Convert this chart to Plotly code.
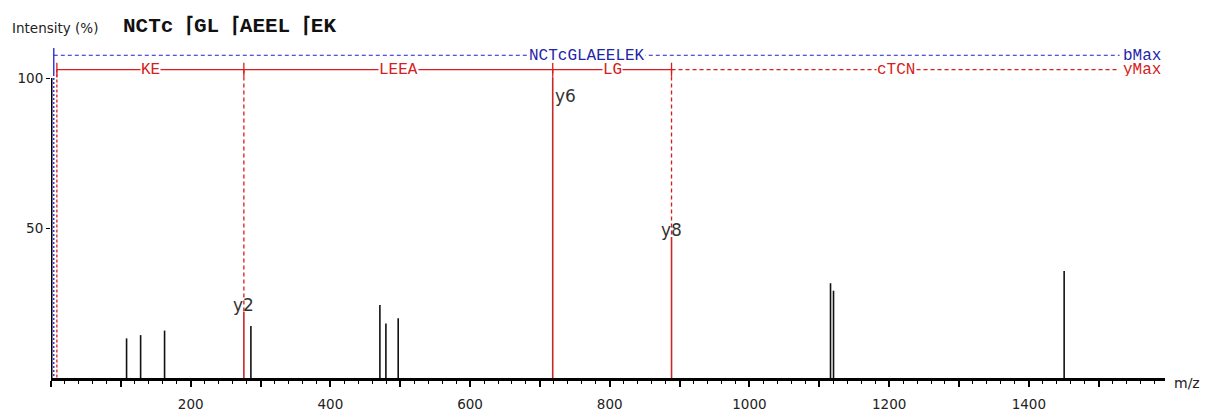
import plotly.graph_objects as go

# ---------------- data ----------------
peak_mz = [108.2, 128.3, 162.6, 286.2, 470.9, 479.5, 497.1, 1116.1, 1120.4, 1450.6]
peak_int = [13.2, 14.3, 15.8, 17.3, 24.3, 18.2, 19.9, 31.6, 29.1, 35.7]

ion_names = ["y2", "y6", "y8"]
ion_mz = [276.15, 718.36, 888.46]
ion_int = [22.0, 100.0, 47.0]

# y-ion ladder (positions) and residue labels between them
y_ladder = [8.4, 276.15, 718.36, 888.46, 1530.0]
y_ladder_labels = ["KE", "LEEA", "LG", "cTCN"]
b_ladder = [4.0, 1530.0]
b_ladder_label = "NCTcGLAEELEK"

xtick_vals = [0, 100, 200, 300, 400, 500, 600, 700, 800, 900, 1000, 1100, 1200, 1300, 1400, 1500]
xtick_text = ["", "", "200", "", "400", "", "600", "", "800", "", "1000", "", "1200", "", "1400", ""]
ytick_vals = [50, 100]
ytick_text = ["50", "100"]

X_MAX = 1595
Y_MAX = 110
Y_LADDER_LEVEL = 102.8
B_LADDER_LEVEL = 107.6

RED = "#dc1c1c"
RED_TXT = "#d42020"
BLUE = "#2020d0"
BLUE_TXT = "#2424a8"
MONO = "Liberation Mono"
LAD_SIZE = 16

# ---------------- figure ----------------
fig = go.Figure()

# black peaks
px, py = [], []
for m, h in zip(peak_mz, peak_int):
    px += [m, m, None]
    py += [0, h, None]
fig.add_trace(go.Scatter(x=px, y=py, mode="lines", line=dict(color="#111111", width=1.6),
                         hoverinfo="skip", showlegend=False))

# red matched y-ion peaks
rx, ry = [], []
for m, h in zip(ion_mz, ion_int):
    rx += [m, m, None]
    ry += [0, h, None]
fig.add_trace(go.Scatter(x=rx, y=ry, mode="lines", line=dict(color="#c82828", width=1.6),
                         hoverinfo="skip", showlegend=False))

shapes = []
# y axis line (only up to 100)
shapes.append(dict(type="line", xref="x", yref="y", x0=0, x1=0, y0=0, y1=100,
                   line=dict(color="black", width=3)))

# blue b ladder line
shapes.append(dict(type="line", x0=b_ladder[0], x1=b_ladder[-1], y0=B_LADDER_LEVEL, y1=B_LADDER_LEVEL,
                   line=dict(color=BLUE, width=1.1, dash="4px,3px")))
shapes.append(dict(type="line", x0=b_ladder[0], x1=b_ladder[0], y0=B_LADDER_LEVEL + 3, y1=Y_LADDER_LEVEL - 1.5,
                   line=dict(color=BLUE, width=1.3)))
shapes.append(dict(type="line", x0=b_ladder[0], x1=b_ladder[0], y0=Y_LADDER_LEVEL - 1.5, y1=0,
                   line=dict(color=BLUE, width=1.3, dash="2px,2px")))

# red y ladder: solid between matched ions, dashed after last one
last_matched = 3
shapes.append(dict(type="line", x0=y_ladder[0], x1=y_ladder[last_matched], y0=Y_LADDER_LEVEL, y1=Y_LADDER_LEVEL,
                   line=dict(color=RED, width=1.3)))
shapes.append(dict(type="line", x0=y_ladder[last_matched], x1=y_ladder[-1], y0=Y_LADDER_LEVEL, y1=Y_LADDER_LEVEL,
                   line=dict(color=RED, width=1.2, dash="4px,3px")))
for i in range(last_matched + 1):
    shapes.append(dict(type="line", x0=y_ladder[i], x1=y_ladder[i], y0=Y_LADDER_LEVEL - 2.3, y1=Y_LADDER_LEVEL + 2.3,
                       line=dict(color=RED, width=1.3)))
# dashed drop lines from ladder to peaks
shapes.append(dict(type="line", x0=y_ladder[0], x1=y_ladder[0], y0=Y_LADDER_LEVEL, y1=0,
                   line=dict(color=RED, width=1.3, dash="3px,2px")))
for m, h in zip(ion_mz, ion_int):
    if h < Y_LADDER_LEVEL:
        shapes.append(dict(type="line", x0=m, x1=m, y0=Y_LADDER_LEVEL, y1=h,
                           line=dict(color=RED, width=1.3, dash="4px,3px")))
    else:
        shapes.append(dict(type="line", x0=m, x1=m, y0=h, y1=Y_LADDER_LEVEL,
                           line=dict(color="#c82828", width=1.6)))

annotations = []
# b ladder labels first (so red labels are drawn on top)
annotations.append(dict(x=(b_ladder[0] + b_ladder[1]) / 2, y=B_LADDER_LEVEL, text=b_ladder_label,
                        showarrow=False, bgcolor="white", borderpad=0, height=13,
                        font=dict(family=MONO, size=LAD_SIZE, color=BLUE_TXT)))
annotations.append(dict(x=b_ladder[1], y=B_LADDER_LEVEL, text="bMax", xanchor="left", xshift=1, height=13,
                        showarrow=False, font=dict(family=MONO, size=LAD_SIZE, color=BLUE_TXT)))
# y ladder labels
for i, lab in enumerate(y_ladder_labels):
    annotations.append(dict(x=(y_ladder[i] + y_ladder[i + 1]) / 2, y=Y_LADDER_LEVEL, text=lab,
                            showarrow=False, bgcolor="white", borderpad=0, height=13,
                            font=dict(family=MONO, size=LAD_SIZE, color=RED_TXT)))
annotations.append(dict(x=y_ladder[-1], y=Y_LADDER_LEVEL, text="yMax", xanchor="left", xshift=1, height=13,
                        showarrow=False, font=dict(family=MONO, size=LAD_SIZE, color=RED_TXT)))

# ion labels
for name, m, h in zip(ion_names, ion_mz, ion_int):
    if h >= 100:
        annotations.append(dict(x=m, y=h - 2.0, text=name, xanchor="left", yanchor="top", xshift=0,
                                showarrow=False, font=dict(family="DejaVu Sans", size=17, color="#333333")))
    else:
        annotations.append(dict(x=m, y=h, text=name, xanchor="center", yanchor="bottom", yshift=-5,
                                showarrow=False, font=dict(family="DejaVu Sans", size=17, color="#333333")))

# axis title & header
annotations.append(dict(xref="paper", yref="paper", x=1, y=0, xanchor="left", yanchor="middle", xshift=7, yshift=-5,
                        text="m/z", showarrow=False, font=dict(family="DejaVu Sans", size=14, color="#222222")))
annotations.append(dict(xref="paper", yref="paper", x=0, y=1, xanchor="left", yanchor="middle",
                        xshift=-41, yshift=20, text="Intensity (%)", showarrow=False,
                        font=dict(family="DejaVu Sans", size=13.5, color="#222222")))
annotations.append(dict(xref="paper", yref="paper", x=0, y=1, xanchor="left", yanchor="middle",
                        xshift=70, yshift=22, text="<b>NCTc \u2308GL \u2308AEEL \u2308EK</b>", showarrow=False,
                        font=dict(family="Liberation Mono", size=21, color="#111111")))

fig.update_layout(
    width=1208, height=417,
    margin=dict(l=51, r=43, t=48, b=39, autoexpand=False),
    paper_bgcolor="white", plot_bgcolor="white",
    shapes=shapes, annotations=annotations,
    showlegend=False,
    xaxis=dict(range=[0, X_MAX], showgrid=False, zeroline=False, automargin=False,
               showline=True, linecolor="black", linewidth=3,
               tickmode="array", tickvals=xtick_vals, ticktext=xtick_text,
               ticks="outside", ticklen=6, tickwidth=1.5, tickcolor="black",
               ticklabelstandoff=6,
               minor=dict(dtick=20, tick0=0, ticks="outside", ticklen=3, tickwidth=1, tickcolor="black"),
               tickfont=dict(family="DejaVu Sans", size=13.5, color="#222222"),
               fixedrange=True),
    yaxis=dict(range=[0, Y_MAX], showgrid=False, zeroline=False, showline=False, automargin=False,
               tickmode="array", tickvals=ytick_vals, ticktext=ytick_text,
               ticks="outside", ticklen=4, tickwidth=1.2, tickcolor="black",
               tickfont=dict(family="DejaVu Sans", size=13.5, color="#222222"),
               fixedrange=True),
)

fig.write_html("out.html")
